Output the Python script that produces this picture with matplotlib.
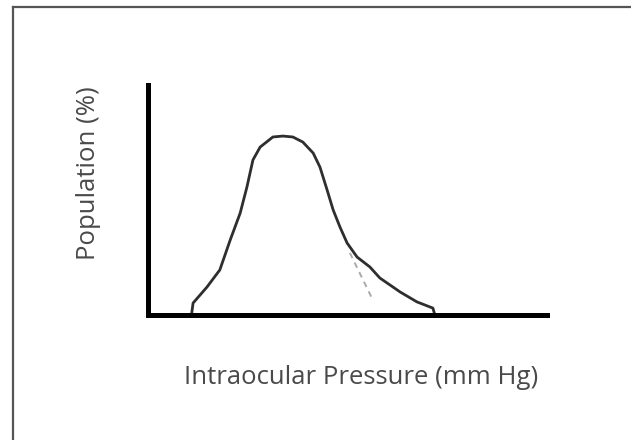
import matplotlib.pyplot as plt
from matplotlib.lines import Line2D

# skewed IOP distribution (arbitrary units 0-100)
pressure = [10.9, 11.3, 14.8, 18.0, 20.6, 23.1, 24.8, 26.3, 28.1, 31.3, 33.8, 36.3,
            38.8, 41.4, 43.1, 44.9, 46.4, 48.1, 49.9, 52.4, 55.6, 58.1, 63.2, 67.4,
            71.4, 71.9]
population = [0.0, 5.2, 12.2, 19.6, 32.6, 44.3, 55.7, 67.4, 73.0, 77.4, 77.8, 77.4,
              75.2, 70.4, 64.3, 54.3, 45.7, 38.3, 31.3, 25.2, 20.9, 16.1, 10.0, 5.7,
              3.0, 0.0]

# dashed symmetric fall-off
sym_pressure = [50.6, 56.1]
sym_population = [27.0, 7.4]

fig = plt.figure(figsize=(6.31, 4.40), dpi=100)

# frame around the picture (top and left edges only are visible)
fig.add_artist(Line2D([13 / 631, 1], [1 - 7 / 440, 1 - 7 / 440], color='#555555', lw=1.6))
fig.add_artist(Line2D([13 / 631, 13 / 631], [0, 1 - 7 / 440], color='#555555', lw=1.6))

ax = fig.add_axes([148 / 631, 125 / 440, 399 / 631, 230 / 440])
ax.plot(pressure, population, color='#2e2e2e', lw=2.0, solid_capstyle='round',
        solid_joinstyle='round')
ax.plot(sym_pressure, sym_population, color='#aaaaaa', lw=1.4, ls=(0, (3, 2.5)))

ax.set_xlim(0, 100)
ax.set_ylim(0, 100)
ax.set_xticks([])
ax.set_yticks([])
for side in ['top', 'right']:
    ax.spines[side].set_visible(False)
for side in ['left', 'bottom']:
    ax.spines[side].set_linewidth(3.6)
    ax.spines[side].set_color('black')

fig.text(89 / 631, 1 - 173 / 440, 'Population (%)', rotation=90, ha='center', va='center',
         fontsize=18.5, color='#4a4a4a', family='Open Sans')
fig.text(361 / 631, 1 - 377 / 440, 'Intraocular Pressure (mm Hg)', ha='center', va='center',
         fontsize=18.5, color='#4a4a4a', family='Open Sans')

fig.savefig('out.png', dpi=100)
